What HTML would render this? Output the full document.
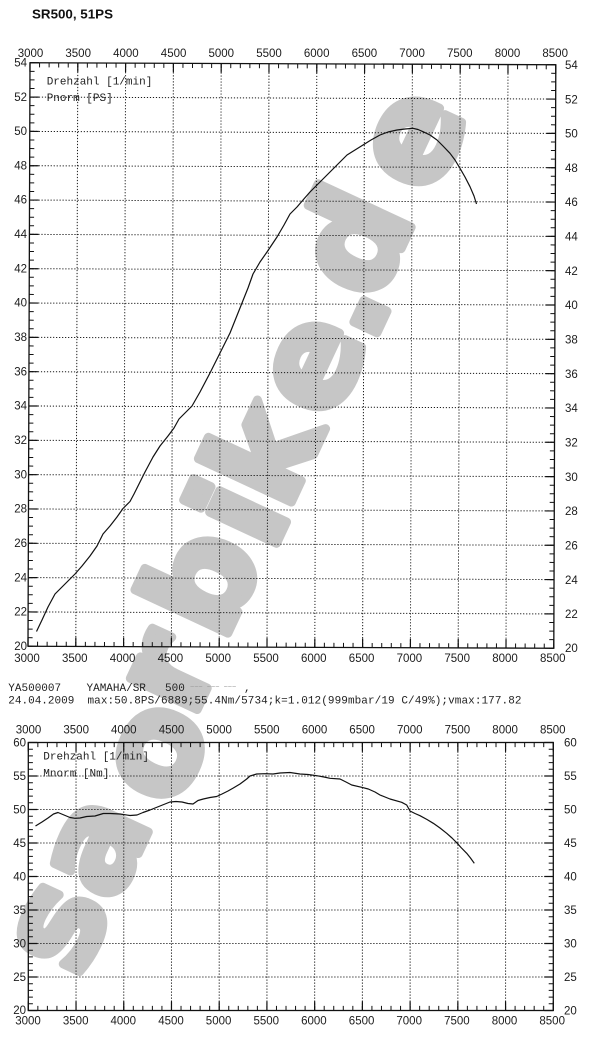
<!DOCTYPE html>
<html>
<head>
<meta charset="utf-8">
<style>
html,body{margin:0;padding:0;background:#fff;}
svg{display:block;}
</style>
</head>
<body>
<svg width="600" height="1041" viewBox="0 0 600 1041" xmlns="http://www.w3.org/2000/svg">
<rect x="0" y="0" width="600" height="1041" fill="#fff"/>

<!-- watermark -->
<g font-family="DejaVu Sans, Liberation Sans, sans-serif" font-weight="bold" font-size="135" fill="#c6c6c6" stroke="#c6c6c6" stroke-width="9" stroke-linejoin="round" text-anchor="middle">
  <text transform="translate(62,928) rotate(-65)" y="37">s</text>
  <text transform="translate(100,848) rotate(-65)" y="37">a</text>
  <text transform="translate(160,753) rotate(-65)" y="37">o</text>
  <text transform="translate(173,674) rotate(-65)" y="37">r</text>
  <text transform="translate(210,584) rotate(-65)" y="37">b</text>
  <text transform="translate(248,517) rotate(-65)" y="37">i</text>
  <text transform="translate(272,456) rotate(-65)" y="37">k</text>
  <text transform="translate(317,366) rotate(-65)" y="37">e</text>
  <text transform="translate(382,322) rotate(-65)" y="0">.</text>
  <text transform="translate(362,245) rotate(-65)" y="37">d</text>
  <text transform="translate(417,141) rotate(-65)" y="37">e</text>
</g>

<!-- title -->
<text x="32" y="18.5" font-family="Liberation Sans, sans-serif" font-weight="bold" font-size="13" fill="#111" textLength="81" lengthAdjust="spacingAndGlyphs">SR500, 51PS</text>

<!-- ================= TOP CHART ================= -->
<g transform="matrix(1 0.0038 -0.00343 1 30 62.75)" fill="none" stroke="#111">
  <g stroke-width="1" stroke-dasharray="1.2 1.8" stroke="#1a1a1a">
    <line x1="47.8" y1="0" x2="47.8" y2="583.5"/>
    <line x1="95.6" y1="0" x2="95.6" y2="583.5"/>
    <line x1="143.4" y1="0" x2="143.4" y2="583.5"/>
    <line x1="191.2" y1="0" x2="191.2" y2="583.5"/>
    <line x1="239" y1="0" x2="239" y2="583.5"/>
    <line x1="286.8" y1="0" x2="286.8" y2="583.5"/>
    <line x1="334.6" y1="0" x2="334.6" y2="583.5"/>
    <line x1="382.4" y1="0" x2="382.4" y2="583.5"/>
    <line x1="430.2" y1="0" x2="430.2" y2="583.5"/>
    <line x1="478" y1="0" x2="478" y2="583.5"/>
    <line x1="0" y1="34.32" x2="525.8" y2="34.32"/>
    <line x1="0" y1="68.65" x2="525.8" y2="68.65"/>
    <line x1="0" y1="102.97" x2="525.8" y2="102.97"/>
    <line x1="0" y1="137.3" x2="525.8" y2="137.3"/>
    <line x1="0" y1="171.62" x2="525.8" y2="171.62"/>
    <line x1="0" y1="205.94" x2="525.8" y2="205.94"/>
    <line x1="0" y1="240.27" x2="525.8" y2="240.27"/>
    <line x1="0" y1="274.59" x2="525.8" y2="274.59"/>
    <line x1="0" y1="308.92" x2="525.8" y2="308.92"/>
    <line x1="0" y1="343.24" x2="525.8" y2="343.24"/>
    <line x1="0" y1="377.56" x2="525.8" y2="377.56"/>
    <line x1="0" y1="411.89" x2="525.8" y2="411.89"/>
    <line x1="0" y1="446.21" x2="525.8" y2="446.21"/>
    <line x1="0" y1="480.54" x2="525.8" y2="480.54"/>
    <line x1="0" y1="514.86" x2="525.8" y2="514.86"/>
    <line x1="0" y1="549.18" x2="525.8" y2="549.18"/>
  </g>
  <line x1="-0.5" y1="2.3" x2="526.3" y2="2.3" stroke-width="4.6" stroke-dasharray="1 8.56"/>
  <line x1="-0.6" y1="4.5" x2="526.4" y2="4.5" stroke-width="9" stroke-dasharray="1.2 46.6"/>
  <line x1="-0.5" y1="581.2" x2="526.3" y2="581.2" stroke-width="4.6" stroke-dasharray="1 8.56"/>
  <line x1="-0.6" y1="579" x2="526.4" y2="579" stroke-width="9" stroke-dasharray="1.2 46.6"/>
  <line x1="2.3" y1="-0.5" x2="2.3" y2="584" stroke-width="4.6" stroke-dasharray="1 7.581"/>
  <line x1="4.5" y1="-0.6" x2="4.5" y2="584" stroke-width="9" stroke-dasharray="1.2 33.124"/>
  <line x1="523.5" y1="-0.5" x2="523.5" y2="584" stroke-width="4.6" stroke-dasharray="1 7.581"/>
  <line x1="521.3" y1="-0.6" x2="521.3" y2="584" stroke-width="9" stroke-dasharray="1.2 33.124"/>
  <rect x="0" y="0" width="525.8" height="583.5" stroke-width="1.3"/>
</g>

<g font-family="Liberation Sans, sans-serif" font-size="11.5" fill="#1c1c1c" text-anchor="middle">
  <text x="30.5" y="57">3000</text>
  <text x="78.2" y="57">3500</text>
  <text x="125.9" y="57">4000</text>
  <text x="173.6" y="57">4500</text>
  <text x="221.3" y="57">5000</text>
  <text x="269" y="57">5500</text>
  <text x="316.7" y="57">6000</text>
  <text x="364.4" y="57">6500</text>
  <text x="412.1" y="57">7000</text>
  <text x="459.8" y="57">7500</text>
  <text x="507.5" y="57">8000</text>
  <text x="555.2" y="57">8500</text>

  <text x="27" y="662">3000</text>
  <text x="74.8" y="662">3500</text>
  <text x="122.6" y="662">4000</text>
  <text x="170.4" y="662">4500</text>
  <text x="218.2" y="662">5000</text>
  <text x="266" y="662">5500</text>
  <text x="313.8" y="662">6000</text>
  <text x="361.6" y="662">6500</text>
  <text x="409.4" y="662">7000</text>
  <text x="457.2" y="662">7500</text>
  <text x="505" y="662">8000</text>
  <text x="552.8" y="662">8500</text>
</g>
<g font-family="Liberation Sans, sans-serif" font-size="11.5" fill="#1c1c1c" text-anchor="end">
  <text x="27" y="66.5">54</text>
  <text x="27" y="100.8">52</text>
  <text x="27" y="135.1">50</text>
  <text x="27" y="169.4">48</text>
  <text x="27" y="203.7">46</text>
  <text x="27" y="238.1">44</text>
  <text x="27" y="272.4">42</text>
  <text x="27" y="306.7">40</text>
  <text x="27" y="341">38</text>
  <text x="27" y="375.4">36</text>
  <text x="27" y="409.7">34</text>
  <text x="27" y="444">32</text>
  <text x="27" y="478.3">30</text>
  <text x="27" y="512.6">28</text>
  <text x="27" y="547">26</text>
  <text x="27" y="581.3">24</text>
  <text x="27" y="615.6">22</text>
  <text x="27" y="649.8">20</text>
</g>
<g font-family="Liberation Sans, sans-serif" font-size="11.5" fill="#1c1c1c">
  <text x="565" y="69">54</text>
  <text x="565" y="103.3">52</text>
  <text x="565" y="137.6">50</text>
  <text x="565" y="171.9">48</text>
  <text x="565" y="206.2">46</text>
  <text x="565" y="240.6">44</text>
  <text x="565" y="274.9">42</text>
  <text x="565" y="309.2">40</text>
  <text x="565" y="343.5">38</text>
  <text x="565" y="377.9">36</text>
  <text x="565" y="412.2">34</text>
  <text x="565" y="446.5">32</text>
  <text x="565" y="480.8">30</text>
  <text x="565" y="515.1">28</text>
  <text x="565" y="549.5">26</text>
  <text x="565" y="583.8">24</text>
  <text x="565" y="618.1">22</text>
  <text x="565" y="652">20</text>
</g>

<g font-family="Liberation Mono, monospace" font-size="11" fill="#222">
  <text x="46.7" y="84.5">Drehzahl [1/min]</text>
  <text x="46.7" y="101">Pnorm [PS]</text>
</g>

<polyline fill="none" stroke="#111" stroke-width="1.2" stroke-linejoin="round" points="36.5,631.5 42,620 48,607 55,594 62,587 69,580 75,574 82,566 90,556 97,546 103,534 110,526 117,517 123,508.5 130,501.5 134,494 137,488 145,472 153,457 160,446 168,436 174,428 179,419 186,412 192,406 200,392 210,373 220,353 230,333 236,318 242,303 248,288 253,274 260,262 267,252 277,237 284,225 290,214 297,207 303,200 310,192 317,185 324,178 332,170 340,162 347,155 355,150 363,145 371,140 380,135 388,132 397,130 405,129 413,128.3 418,129.5 423,131.7 430,135 437,140 443,146 450,153.3 455,160 460,168.3 465,177 470,186.7 474,196 476.5,204"/>

<g font-family="Liberation Mono, monospace" font-size="11" fill="#222">
  <text x="8.3" y="691">YA500007</text>
  <text x="86.5" y="691">YAMAHA/SR</text>
  <text x="165" y="691">500</text>
  <text x="190" y="689" font-size="7" fill="#999">~~~ ~~~ ~~~</text>
  <text x="244" y="691">,</text>
  <text x="8.3" y="703.5">24.04.2009</text>
  <text x="87.5" y="703.5" textLength="434" lengthAdjust="spacing">max:50.8PS/6889;55.4Nm/5734;k=1.012(999mbar/19 C/49%);vmax:177.82</text>
</g>

<!-- ================= BOTTOM CHART ================= -->
<g transform="translate(28.3,742.5)" fill="none" stroke="#111">
  <g stroke-width="1" stroke-dasharray="1.2 1.8" stroke="#1a1a1a">
    <line x1="47.73" y1="0" x2="47.73" y2="268"/>
    <line x1="95.45" y1="0" x2="95.45" y2="268"/>
    <line x1="143.18" y1="0" x2="143.18" y2="268"/>
    <line x1="190.91" y1="0" x2="190.91" y2="268"/>
    <line x1="238.64" y1="0" x2="238.64" y2="268"/>
    <line x1="286.36" y1="0" x2="286.36" y2="268"/>
    <line x1="334.09" y1="0" x2="334.09" y2="268"/>
    <line x1="381.82" y1="0" x2="381.82" y2="268"/>
    <line x1="429.55" y1="0" x2="429.55" y2="268"/>
    <line x1="477.27" y1="0" x2="477.27" y2="268"/>
    <line x1="0" y1="33.5" x2="525" y2="33.5"/>
    <line x1="0" y1="67" x2="525" y2="67"/>
    <line x1="0" y1="100.5" x2="525" y2="100.5"/>
    <line x1="0" y1="134" x2="525" y2="134"/>
    <line x1="0" y1="167.5" x2="525" y2="167.5"/>
    <line x1="0" y1="201" x2="525" y2="201"/>
    <line x1="0" y1="234.5" x2="525" y2="234.5"/>
  </g>
  <line x1="-0.5" y1="2.3" x2="525.5" y2="2.3" stroke-width="4.6" stroke-dasharray="1 8.545"/>
  <line x1="-0.6" y1="4.5" x2="525.6" y2="4.5" stroke-width="9" stroke-dasharray="1.2 46.527"/>
  <line x1="-0.5" y1="265.7" x2="525.5" y2="265.7" stroke-width="4.6" stroke-dasharray="1 8.545"/>
  <line x1="-0.6" y1="263.5" x2="525.6" y2="263.5" stroke-width="9" stroke-dasharray="1.2 46.527"/>
  <line x1="2.3" y1="-0.5" x2="2.3" y2="268.5" stroke-width="4.6" stroke-dasharray="1 5.7"/>
  <line x1="4.5" y1="-0.6" x2="4.5" y2="268.6" stroke-width="9" stroke-dasharray="1.2 32.3"/>
  <line x1="522.7" y1="-0.5" x2="522.7" y2="268.5" stroke-width="4.6" stroke-dasharray="1 5.7"/>
  <line x1="520.5" y1="-0.6" x2="520.5" y2="268.6" stroke-width="9" stroke-dasharray="1.2 32.3"/>
  <rect x="0" y="0" width="525" height="268" stroke-width="1.3"/>
</g>

<g font-family="Liberation Sans, sans-serif" font-size="11.5" fill="#1c1c1c" text-anchor="middle">
  <text x="28.5" y="733.5">3000</text>
  <text x="76.2" y="733.5">3500</text>
  <text x="123.8" y="733.5">4000</text>
  <text x="171.5" y="733.5">4500</text>
  <text x="219.1" y="733.5">5000</text>
  <text x="266.8" y="733.5">5500</text>
  <text x="314.5" y="733.5">6000</text>
  <text x="362.1" y="733.5">6500</text>
  <text x="409.8" y="733.5">7000</text>
  <text x="457.4" y="733.5">7500</text>
  <text x="505.1" y="733.5">8000</text>
  <text x="552.8" y="733.5">8500</text>

  <text x="28" y="1024.5">3000</text>
  <text x="75.7" y="1024.5">3500</text>
  <text x="123.3" y="1024.5">4000</text>
  <text x="171" y="1024.5">4500</text>
  <text x="218.6" y="1024.5">5000</text>
  <text x="266.3" y="1024.5">5500</text>
  <text x="313.9" y="1024.5">6000</text>
  <text x="361.6" y="1024.5">6500</text>
  <text x="409.2" y="1024.5">7000</text>
  <text x="456.9" y="1024.5">7500</text>
  <text x="504.5" y="1024.5">8000</text>
  <text x="552.2" y="1024.5">8500</text>
</g>
<g font-family="Liberation Sans, sans-serif" font-size="11.5" fill="#1c1c1c" text-anchor="end">
  <text x="26" y="746.5">60</text>
  <text x="26" y="780">55</text>
  <text x="26" y="813.5">50</text>
  <text x="26" y="847">45</text>
  <text x="26" y="880.5">40</text>
  <text x="26" y="914">35</text>
  <text x="26" y="947.5">30</text>
  <text x="26" y="981">25</text>
  <text x="26" y="1014">20</text>
</g>
<g font-family="Liberation Sans, sans-serif" font-size="11.5" fill="#1c1c1c">
  <text x="564" y="746.5">60</text>
  <text x="564" y="780">55</text>
  <text x="564" y="813.5">50</text>
  <text x="564" y="847">45</text>
  <text x="564" y="880.5">40</text>
  <text x="564" y="914">35</text>
  <text x="564" y="947.5">30</text>
  <text x="564" y="981">25</text>
  <text x="564" y="1014.5">20</text>
</g>

<g font-family="Liberation Mono, monospace" font-size="11" fill="#222">
  <text x="43.3" y="759.5">Drehzahl [1/min]</text>
  <text x="43.3" y="776.5">Mnorm [Nm]</text>
</g>

<polyline fill="none" stroke="#111" stroke-width="1.2" stroke-linejoin="round" points="35.5,826 42,822 48,818 53.5,814 58,812.5 64,815 70,817.5 75,818.3 80,818 86.7,816.5 95,816 103.3,813.5 110,813.5 120,814 130,815.5 137,815 143,812.5 150,810 160,806 170,802 176,801.5 182,802 188,803.5 193,804 198,800.5 203.3,799 210,797.5 216.7,796.5 222,794 228,791 233.3,788 240,784 246.7,779 250,776 256.7,774 265,773.7 273,774 280,773 290,772.5 300,774 308,774.5 316.7,775.7 324,777 330,778.3 340,779 346,782 351.7,785 361.7,787.3 368.3,789 375,792 380,795 390,799 401.7,802.3 406.7,805 410,811 415,813.5 420,815.7 427,819.5 433.3,823.3 440,828 446.7,833.3 452,838 456.7,842.7 461,847.5 466.7,853.3 470.5,858 474.3,863.3"/>

</svg>
</body>
</html>
